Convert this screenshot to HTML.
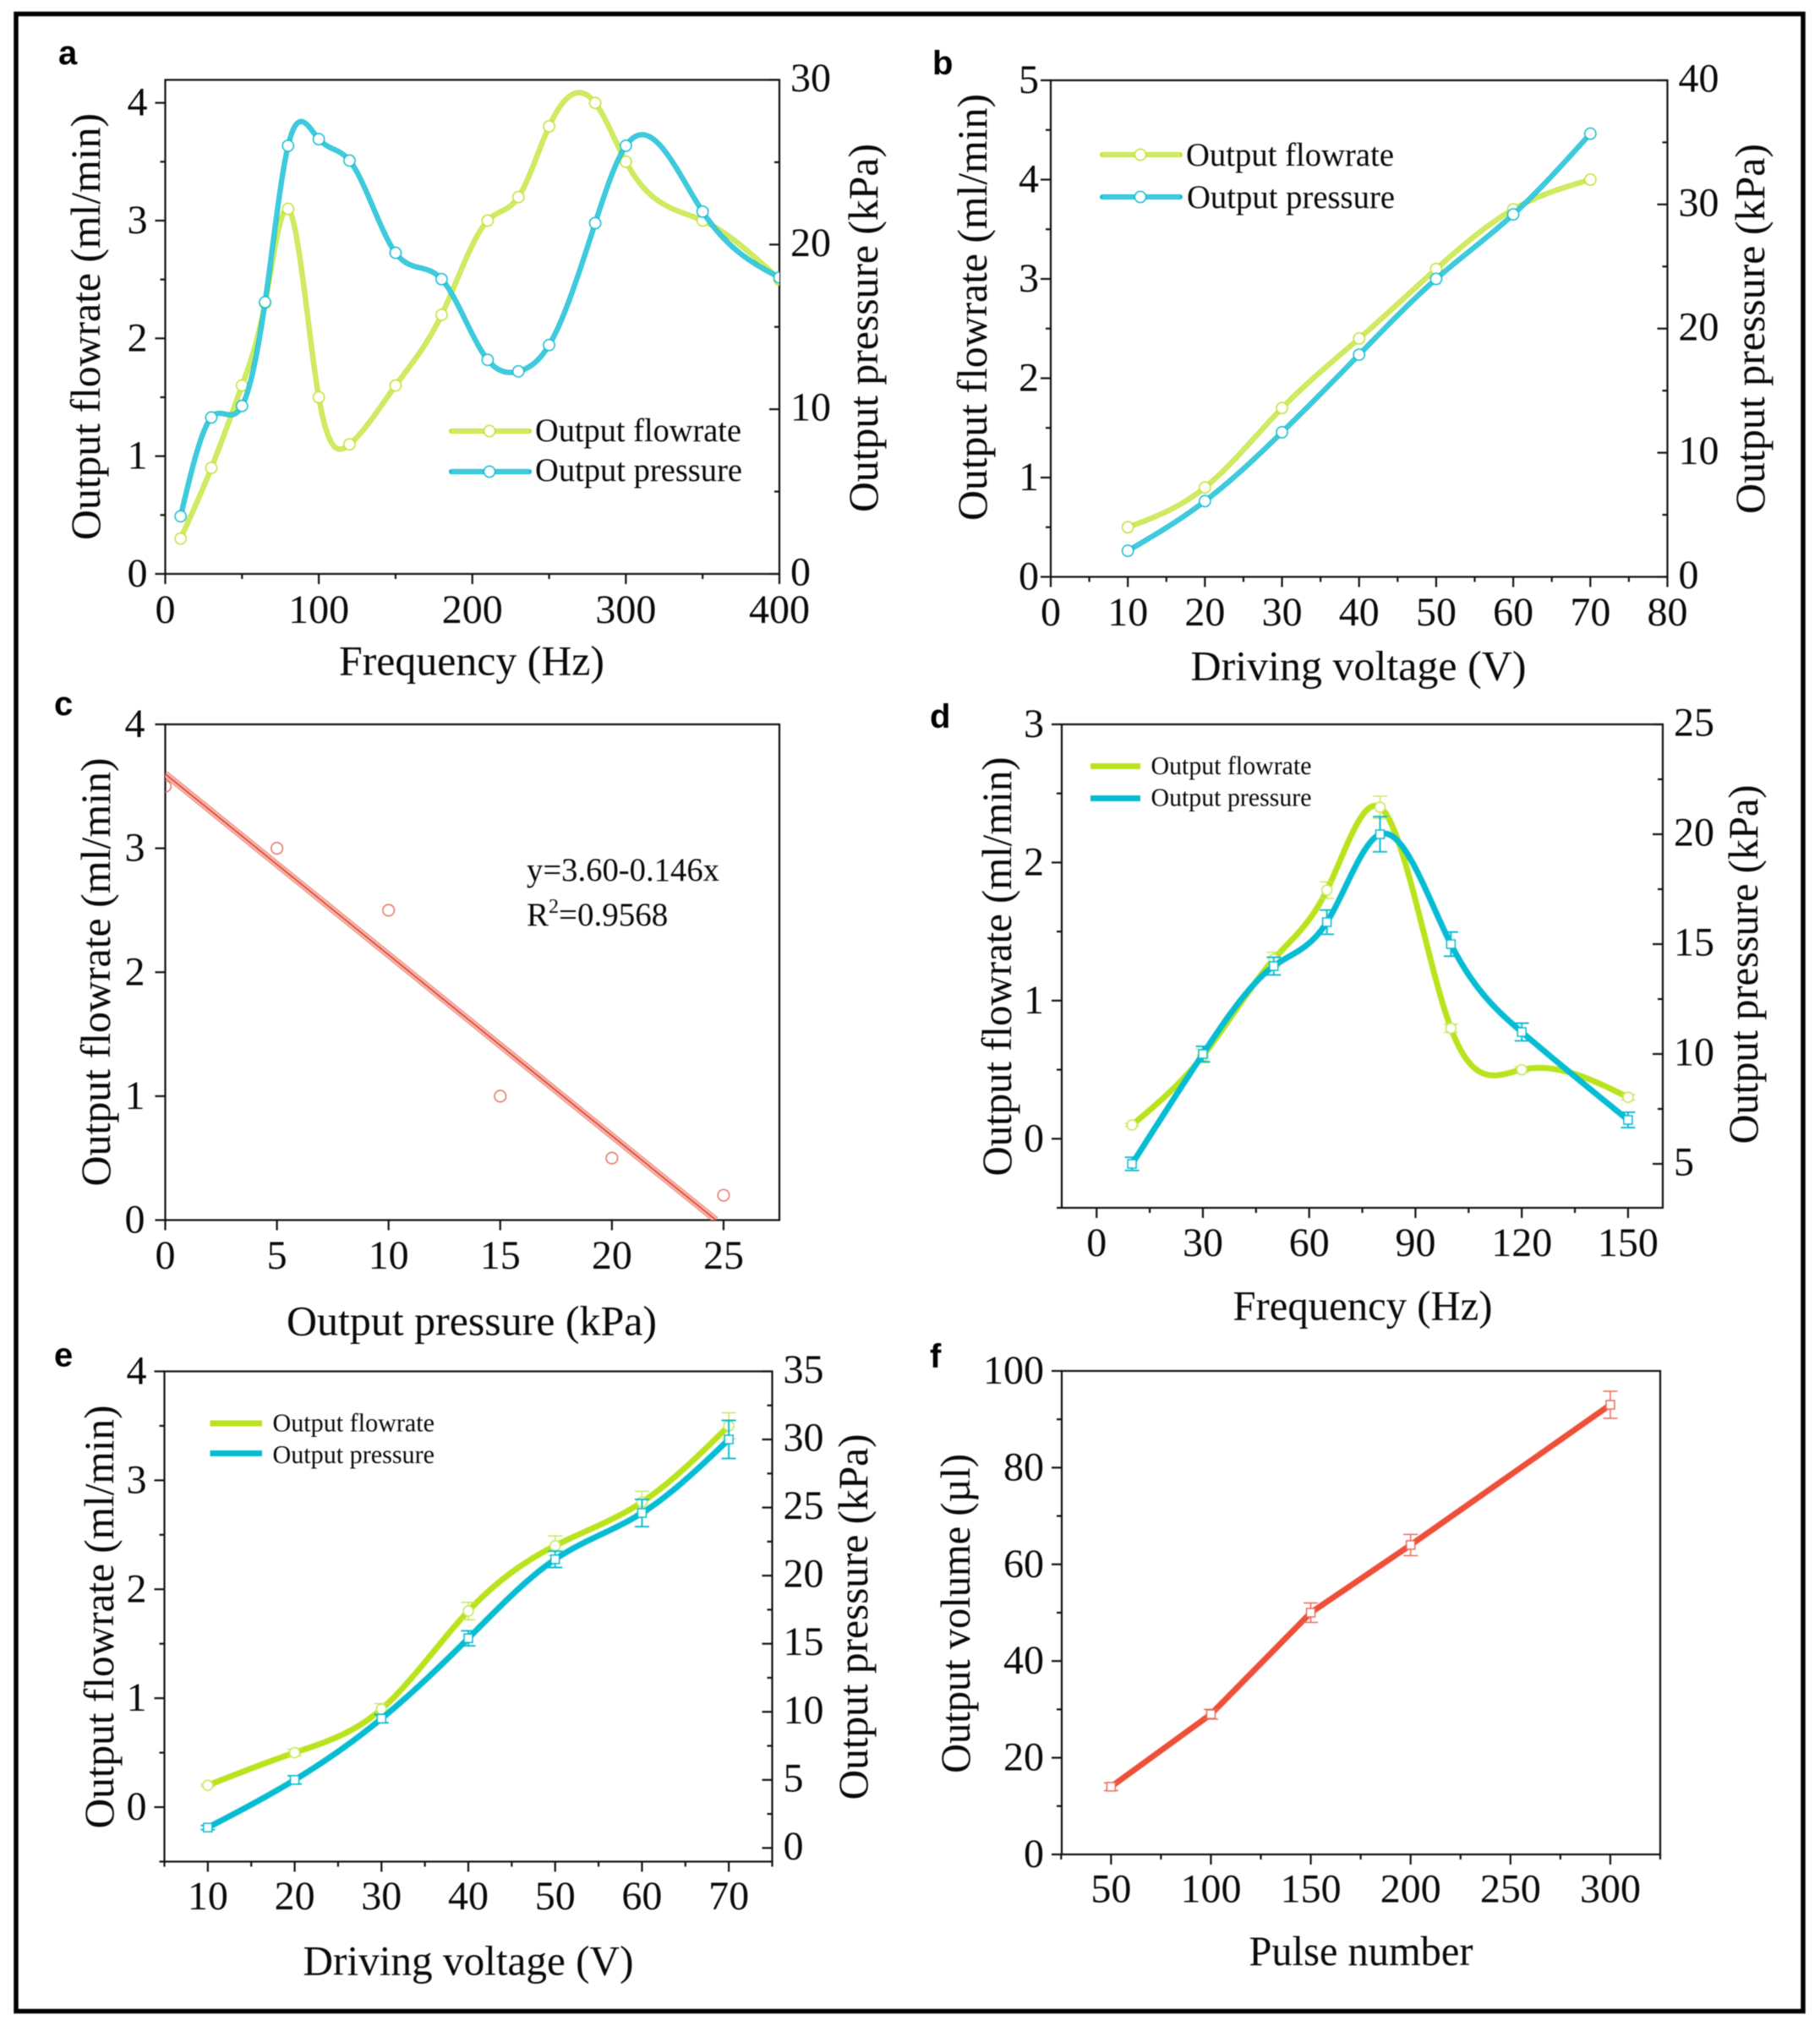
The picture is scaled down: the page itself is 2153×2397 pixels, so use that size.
<!DOCTYPE html>
<html lang="en">
<head>
<meta charset="utf-8">
<title>Micropump output characteristics</title>
<style>
html,body{margin:0;padding:0;background:#fff;width:2153px;height:2397px;overflow:hidden}
svg{display:block;filter:blur(0.5px)}
text{font-family:"Liberation Serif","DejaVu Serif",serif;fill:#0a0a0a}
.panel-letter{font-family:"Liberation Sans","DejaVu Sans",sans-serif;font-weight:bold;font-size:40px;fill:#000}
</style>
</head>
<body>
<svg id="figure" xmlns="http://www.w3.org/2000/svg" width="2153" height="2397" viewBox="0 0 2153 2397">
  <rect x="0" y="0" width="2153" height="2397" fill="#ffffff"/>
  <rect x="19" y="16.5" width="2114" height="2363" fill="none" stroke="#000" stroke-width="5.5"/>
</svg>
<script>
// Panel a
const aFlowX = [10,30,50,65,80,100,120,150,180,210,230,250,280,300,350,400];
const aFlowY = [0.3,0.9,1.6,2.3,3.1,1.5,1.1,1.6,2.2,3.0,3.2,3.8,4.0,3.5,3.0,2.5];
const aPressX = [10,30,50,65,80,100,120,150,180,210,230,250,280,300,350,400];
const aPressY = [3.5,9.5,10.2,16.5,26,26.4,25.1,19.5,17.9,13,12.3,13.9,21.3,26,22,18];
const aXTicks = [0,100,200,300,400];
const aXMinor = [50,150,250,350];
const aLeftTicks = [0,1,2,3,4];
const aLeftMinor = [0.5,1.5,2.5,3.5];
const aRightTicks = [0,10,20,30];
const aRightMinor = [5,15,25];
// Panel b
const bX = [10,20,30,40,50,60,70];
const bFlowY = [0.5,0.9,1.7,2.4,3.1,3.7,4.0];
const bPressY = [2.1,6.1,11.65,17.9,24,29.2,35.7];
const bXTicks = [0,10,20,30,40,50,60,70,80];
const bXMinor = [5,15,25,35,45,55,65,75];
const bLeftTicks = [0,1,2,3,4,5];
const bLeftMinor = [0.5,1.5,2.5,3.5,4.5];
const bRightTicks = [0,10,20,30,40];
const bRightMinor = [5,15,25,35];
// Panel c
const cX = [0,5,10,15,20,25];
const cY = [3.5,3.0,2.5,1.0,0.5,0.2];
const cIntercept = 3.60;
const cSlope = -0.146;
const cXTicks = [0,5,10,15,20,25];
const cLeftTicks = [0,1,2,3,4];
// Panel d
const dX = [10,30,50,65,80,100,120,150];
const dFlowY = [0.1,0.6,1.3,1.8,2.4,0.8,0.5,0.3];
const dFlowErr = [0.01,0.05,0.05,0.06,0.08,0.03,0.02,0.02];
const dPressY = [5,10,14,16,20,15,11,7];
const dPressErr = [0.3,0.35,0.4,0.55,0.8,0.55,0.4,0.35];
const dXTicks = [0,30,60,90,120,150];
const dXMinor = [15,45,75,105,135];
const dLeftTicks = [0,1,2,3];
const dLeftMinor = [-0.5,0.5,1.5,2.5];
const dRightTicks = [5,10,15,20,25];
const dRightMinor = [7.5,12.5,17.5,22.5];
// Panel e
const eX = [10,20,30,40,50,60,70];
const eFlowY = [0.2,0.5,0.9,1.8,2.4,2.8,3.5];
const eFlowErr = [0.01,0.03,0.05,0.08,0.09,0.1,0.12];
const ePressY = [1.5,5,9.5,15.4,21.2,24.6,30];
const ePressErr = [0.15,0.3,0.3,0.55,0.6,1.0,1.4];
const eXTicks = [10,20,30,40,50,60,70];
const eXMinor = [5,15,25,35,45,55,65,75];
const eLeftTicks = [0,1,2,3,4];
const eLeftMinor = [-0.5,0.5,1.5,2.5,3.5];
const eRightTicks = [0,5,10,15,20,25,30,35];
const eRightMinor = [2.5,7.5,12.5,17.5,22.5,27.5,32.5];
// Panel f
const fX = [50,100,150,200,300];
const fY = [14,29,50,64,93];
const fErr = [0.8,1.0,2.0,2.2,2.8];
const fXTicks = [50,100,150,200,250,300];
const fXMinor = [25,75,125,175,225,275,325];
const fLeftTicks = [0,20,40,60,80,100];
const fLeftMinor = [10,30,50,70,90];

const NS = 'http://www.w3.org/2000/svg';
const root = document.getElementById('figure');
const GREEN = '#b9e31c';
const TEAL = '#06bcd2';
const RED = '#ee4f38';

function mk(tag, attrs, parent) {
  const node = document.createElementNS(NS, tag);
  for (const k in attrs) node.setAttribute(k, attrs[k]);
  parent.appendChild(node);
  return node;
}
function linear(d0, d1, r0, r1) {
  return function (v) { return r0 + (v - d0) * (r1 - r0) / (d1 - d0); };
}
function splinePath(xs, ys, sx, sy) {
  const n = xs.length;
  const a = new Array(n).fill(0), u = new Array(n).fill(0);
  for (let i = 1; i < n - 1; i++) {
    const sig = (xs[i] - xs[i-1]) / (xs[i+1] - xs[i-1]);
    const p = sig * a[i-1] + 2;
    a[i] = (sig - 1) / p;
    const dd = (ys[i+1] - ys[i]) / (xs[i+1] - xs[i]) - (ys[i] - ys[i-1]) / (xs[i] - xs[i-1]);
    u[i] = (6 * dd / (xs[i+1] - xs[i-1]) - sig * u[i-1]) / p;
  }
  for (let i = n - 2; i >= 0; i--) a[i] = a[i] * a[i+1] + u[i];
  let d = '';
  for (let i = 0; i < n - 1; i++) {
    const h = xs[i+1] - xs[i];
    for (let s = 0; s <= 24; s++) {
      if (i > 0 && s === 0) continue;
      const t = s / 24, A = 1 - t, B = t;
      const v = A * ys[i] + B * ys[i+1] + ((A*A*A - A) * a[i] + (B*B*B - B) * a[i+1]) * h * h / 6;
      const xv = xs[i] + h * t;
      d += (d ? 'L' : 'M') + sx(xv).toFixed(2) + ' ' + sy(v).toFixed(2);
    }
  }
  return d;
}
function addText(parent, name, str, x, y, size, anchor, length, rotate) {
  const t = mk('text', { x: x, y: y, 'font-size': size, 'text-anchor': anchor }, parent);
  
  
  if (length) {
    t.setAttribute('textLength', length);
    t.setAttribute('lengthAdjust', 'spacingAndGlyphs');
  }
  if (rotate) t.setAttribute('transform', 'rotate(-90 ' + x + ' ' + y + ')');
  t.textContent = str;
  return t;
}
function tick(parent, name, x1, y1, x2, y2) {
  const l = mk('line', { x1: x1, y1: y1, x2: x2, y2: y2, stroke: '#111', 'stroke-width': 2.2 }, parent);
  
  
}

function makePanel(id, box, xDom, leftDom, rightDom, tk, lab) {
  const g = mk('g', {}, root);
  
  
  const sx = linear(xDom[0], xDom[1], box.l, box.r);
  const sy = linear(leftDom[0], leftDom[1], box.b, box.t);
  const sr = rightDom ? linear(rightDom[0], rightDom[1], box.b, box.t) : null;

  const letter = mk('text', { x: lab.letter[0], y: lab.letter[1], class: 'panel-letter' }, g);
  
  
  letter.textContent = id;

  const frame = mk('rect', { x: box.l, y: box.t, width: box.r - box.l, height: box.b - box.t, fill: 'none', stroke: '#111', 'stroke-width': 2.2 }, g);
  
  

  tk.x.forEach(function (v) {
    tick(g, 'x-tick-' + v, sx(v), box.b, sx(v), box.b + 12);
    addText(g, 'x-tick-label-' + v, String(v), sx(v), lab.xTickY, 48, 'middle');
  });
  (tk.xMinor || []).forEach(function (v) {
    tick(g, 'x-minor-tick-' + v, sx(v), box.b, sx(v), box.b + 6);
  });
  tk.left.forEach(function (v) {
    tick(g, 'left-tick-' + v, box.l - 12, sy(v), box.l, sy(v));
    addText(g, 'left-tick-label-' + v, String(v), box.l - lab.leftOff, sy(v) + 15, 48, 'end');
  });
  (tk.leftMinor || []).forEach(function (v) {
    tick(g, 'left-minor-tick-' + v, box.l - 6, sy(v), box.l, sy(v));
  });
  if (sr) {
    tk.right.forEach(function (v) {
      tick(g, 'right-tick-' + v, box.r - 12, sr(v), box.r, sr(v));
      addText(g, 'right-tick-label-' + v, String(v), box.r + lab.rightOff, sr(v) + 13.5, 48, 'start');
    });
    (tk.rightMinor || []).forEach(function (v) {
      tick(g, 'right-minor-tick-' + v, box.r - 6, sr(v), box.r, sr(v));
    });
  }

  addText(g, 'x-axis-title', lab.xTitle[0], lab.xTitle[1], lab.xTitle[2], 50, 'middle', lab.xTitle[3]);
  addText(g, 'left-axis-title', lab.yTitle[0], lab.yTitle[1], lab.yTitle[2], 50, 'middle', lab.yTitle[3], true);
  if (lab.rTitle) addText(g, 'right-axis-title', lab.rTitle[0], lab.rTitle[1], lab.rTitle[2], 50, 'middle', lab.rTitle[3], true);

  const clip = mk('clipPath', { id: 'clip-' + id }, g);
  
  
  mk('rect', { x: box.l, y: box.t, width: box.r - box.l, height: box.b - box.t }, clip);
  const plot = mk('g', { 'clip-path': 'url(#clip-' + id + ')' }, g);
  
  
  return { g: g, plot: plot, sx: sx, sy: sy, sr: sr };
}

function tripleStroke(parent, name, d, outer, mid) {
  const a = mk('path', { d: d, fill: 'none', stroke: outer, 'stroke-width': 6, 'stroke-linecap': 'round', 'stroke-linejoin': 'round' }, parent);
  
  
  const b = mk('path', { d: d, fill: 'none', stroke: mid, 'stroke-width': 3.2, 'stroke-linejoin': 'round' }, parent);
  
  
  const c = mk('path', { d: d, fill: 'none', stroke: outer, 'stroke-width': 1.2, 'stroke-linejoin': 'round' }, parent);
  
  
}
function circleMarker(parent, name, x, y, r, color) {
  const c = mk('circle', { cx: x, cy: y, r: r, fill: '#fff', stroke: color, 'stroke-width': 1.5 }, parent);
  
  
}
function squareMarker(parent, name, x, y, s, color) {
  const c = mk('rect', { x: x - s/2, y: y - s/2, width: s, height: s, fill: '#fff', stroke: color, 'stroke-width': 1.5 }, parent);
  
  
}
function errorBar(parent, name, x, yTop, yBot, color, lw) {
  const e = mk('path', { d: 'M' + (x-8.5) + ' ' + yTop + 'H' + (x+8.5) + 'M' + (x-8.5) + ' ' + yBot + 'H' + (x+8.5) + 'M' + x + ' ' + yTop + 'V' + yBot, fill: 'none', stroke: color, 'stroke-width': lw }, parent);
  
  
}
function doubleLineSeries(parent, name, xs, ys, sx, sy, outer, mid) {
  tripleStroke(parent, name + '-line', splinePath(xs, ys, sx, sy), outer, mid);
  xs.forEach(function (x, i) {
    circleMarker(parent, name + '-point-' + x, sx(x), sy(ys[i]), 6.6, outer);
  });
}
function errorSeries(parent, name, xs, ys, errs, sx, sy, color, errColor, shape) {
  const line = mk('path', { d: splinePath(xs, ys, sx, sy), fill: 'none', stroke: color, 'stroke-width': 7, 'stroke-linejoin': 'round' }, parent);
  
  
  xs.forEach(function (x, i) {
    errorBar(parent, name + '-error-' + x, sx(x), sy(ys[i] + errs[i]), sy(ys[i] - errs[i]), errColor, shape === 'square' ? 1.9 : 1.4);
    if (shape === 'square') squareMarker(parent, name + '-point-' + x, sx(x), sy(ys[i]), 10, color);
    else circleMarker(parent, name + '-point-' + x, sx(x), sy(ys[i]), 6, errColor);
  });
}
function legendDouble(parent, name, label, x1, x2, y, mx, tx, ty, len, outer, mid) {
  tripleStroke(parent, name + '-swatch', 'M' + x1 + ' ' + y + 'H' + x2, outer, mid);
  circleMarker(parent, name + '-marker', mx, y, 6.6, outer);
  addText(parent, name + '-label', label, tx, ty, 39, 'start', len);
}
function legendSolid(parent, name, label, x1, x2, y, tx, ty, len, color) {
  const s = mk('line', { x1: x1, x2: x2, y1: y, y2: y, stroke: color, 'stroke-width': 7 }, parent);
  
  
  addText(parent, name + '-label', label, tx, ty, 31, 'start', len);
}

const FLOW_TITLE = 'Output flowrate (ml/min)';
const PRESS_TITLE = 'Output pressure (kPa)';
const GREEN_MID = '#e4f4a4';
const TEAL_MID = '#74dcea';

// ---- a ----
const pa = makePanel('a', {l:195.5,r:922,t:94.5,b:679}, [0,400], [0,4.195], [0,30],
  {x:aXTicks,xMinor:aXMinor,left:aLeftTicks,leftMinor:aLeftMinor,right:aRightTicks,rightMinor:aRightMinor},
  {letter:[69,76],xTickY:737,leftOff:21,rightOff:13,
   xTitle:['Frequency (Hz)',558,798.5,314],yTitle:[FLOW_TITLE,118,386.5,505],rTitle:[PRESS_TITLE,1038,388,436]});
doubleLineSeries(pa.plot,'flowrate-a',aFlowX,aFlowY,pa.sx,pa.sy,'#bfe32c',GREEN_MID);
doubleLineSeries(pa.plot,'pressure-a',aPressX,aPressY,pa.sx,pa.sr,'#10bcd2',TEAL_MID);
legendDouble(pa.g,'legend-flowrate-a','Output flowrate',534,626,510,579,633,522,244,'#bfe32c',GREEN_MID);
legendDouble(pa.g,'legend-pressure-a','Output pressure',534,626,558,579,633,569,245,'#10bcd2',TEAL_MID);

// ---- b ----
const pb = makePanel('b', {l:1243,r:1972.5,t:95,b:682.5}, [0,80], [0,5], [0,40],
  {x:bXTicks,xMinor:bXMinor,left:bLeftTicks,leftMinor:bLeftMinor,right:bRightTicks,rightMinor:bRightMinor},
  {letter:[1103,88],xTickY:740,leftOff:14,rightOff:13,
   xTitle:['Driving voltage (V)',1607,804.5,397],yTitle:[FLOW_TITLE,1167,363.5,505],rTitle:[PRESS_TITLE,2087,389,438]});
doubleLineSeries(pb.plot,'flowrate-b',bX,bFlowY,pb.sx,pb.sy,'#bfe32c',GREEN_MID);
doubleLineSeries(pb.plot,'pressure-b',bX,bPressY,pb.sx,pb.sr,'#10bcd2',TEAL_MID);
legendDouble(pb.g,'legend-flowrate-b','Output flowrate',1304,1396,183,1349,1403,196,246,'#bfe32c',GREEN_MID);
legendDouble(pb.g,'legend-pressure-b','Output pressure',1304,1396,233,1349,1404,246,246,'#10bcd2',TEAL_MID);

// ---- c ----
const pc = makePanel('c', {l:195.5,r:922,t:857,b:1443.5}, [0,27.5], [0,4], null,
  {x:cXTicks,left:cLeftTicks},
  {letter:[64,846],xTickY:1501,leftOff:24,
   xTitle:['Output pressure (kPa)',558,1579.5,438],yTitle:[FLOW_TITLE,130,1150,507]});
cX.forEach(function (x, i) {
  const c = mk('circle', { cx: pc.sx(x), cy: pc.sy(cY[i]), r: 6.8, fill: 'none', stroke: '#e77a6e', 'stroke-width': 1.6 }, pc.plot);
  
  
});
const cXEnd = -cIntercept / cSlope;
const cLineD = 'M' + pc.sx(0) + ' ' + pc.sy(cIntercept) + 'L' + pc.sx(cXEnd) + ' ' + pc.sy(cIntercept + cSlope * cXEnd);
const cFit1 = mk('path', { d: cLineD, stroke: '#ea8576', 'stroke-width': 8, fill: 'none' }, pc.plot);


const cFit2 = mk('path', { d: cLineD, stroke: '#f9d3cc', 'stroke-width': 5.4, fill: 'none' }, pc.plot);


const cFit3 = mk('path', { d: cLineD, stroke: '#e8533f', 'stroke-width': 2.4, fill: 'none' }, pc.plot);


addText(pc.g, 'fit-equation', 'y=3.60-0.146x', 623, 1042, 39, 'start', 228);
const r2 = addText(pc.g, 'fit-r-squared', 'R', 623, 1095, 39, 'start');
const r2sup = mk('tspan', { dy: -15, 'font-size': 24 }, r2);


r2sup.textContent = '2';
const r2val = mk('tspan', { dy: 15 }, r2);


r2val.textContent = '=0.9568';

// ---- d ----
const pd = makePanel('d', {l:1256,r:1967,t:857,b:1429}, [-9.84,159.8], [-0.5,3], [3,25],
  {x:dXTicks,xMinor:dXMinor,left:dLeftTicks,leftMinor:dLeftMinor,right:dRightTicks,rightMinor:dRightMinor},
  {letter:[1100,861],xTickY:1486,leftOff:21,rightOff:13,
   xTitle:['Frequency (Hz)',1612,1561.5,307],yTitle:[FLOW_TITLE,1196,1143.5,496],rTitle:[PRESS_TITLE,2079,1141,425]});
errorSeries(pd.plot,'flowrate-d',dX,dFlowY,dFlowErr,pd.sx,pd.sy,GREEN,'#c6e85a','circle');
errorSeries(pd.plot,'pressure-d',dX,dPressY,dPressErr,pd.sx,pd.sr,TEAL,TEAL,'square');
legendSolid(pd.g,'legend-flowrate-d','Output flowrate',1290,1349,906.5,1361.5,916,190,GREEN);
legendSolid(pd.g,'legend-pressure-d','Output pressure',1290,1349,944.5,1361.5,953.5,190,TEAL);

// ---- e ----
const pe = makePanel('e', {l:194.5,r:913.5,t:1622.5,b:2202.5}, [5,75], [-0.5,4], [-1,35],
  {x:eXTicks,xMinor:eXMinor,left:eLeftTicks,leftMinor:eLeftMinor,right:eRightTicks,rightMinor:eRightMinor},
  {letter:[64,1616.5],xTickY:2259,leftOff:21,rightOff:13,
   xTitle:['Driving voltage (V)',554,2336.5,391],yTitle:[FLOW_TITLE,134,1913,501],rTitle:[PRESS_TITLE,1026,1913,433]});
errorSeries(pe.plot,'flowrate-e',eX,eFlowY,eFlowErr,pe.sx,pe.sy,GREEN,'#c6e85a','circle');
errorSeries(pe.plot,'pressure-e',eX,ePressY,ePressErr,pe.sx,pe.sr,TEAL,TEAL,'square');
legendSolid(pe.g,'legend-flowrate-e','Output flowrate',248.5,310,1684,322.5,1693.5,191.5,GREEN);
legendSolid(pe.g,'legend-pressure-e','Output pressure',248.5,310,1719.5,322.5,1731,191.5,TEAL);

// ---- f ----
const pf = makePanel('f', {l:1256,r:1964,t:1622,b:2194}, [25.3,325], [0,100], null,
  {x:fXTicks,xMinor:fXMinor,left:fLeftTicks,leftMinor:fLeftMinor},
  {letter:[1100,1618],xTickY:2250.5,leftOff:21,
   xTitle:['Pulse number',1610,2325,265],yTitle:['Output volume (\u00b5l)',1147,1909,378]});
const fLineD = fX.map(function (x, i) { return (i ? 'L' : 'M') + pf.sx(x).toFixed(2) + ' ' + pf.sy(fY[i]).toFixed(2); }).join('');
const fLine = mk('path', { d: fLineD, fill: 'none', stroke: RED, 'stroke-width': 7, 'stroke-linejoin': 'round' }, pf.plot);


fX.forEach(function (x, i) {
  errorBar(pf.plot, 'output-volume-error-' + x, pf.sx(x), pf.sy(fY[i] + fErr[i]), pf.sy(fY[i] - fErr[i]), '#ea6a58', 1.5);
  squareMarker(pf.plot, 'output-volume-point-' + x, pf.sx(x), pf.sy(fY[i]), 10, '#ea6a58');
});
</script>
</body>
</html>
